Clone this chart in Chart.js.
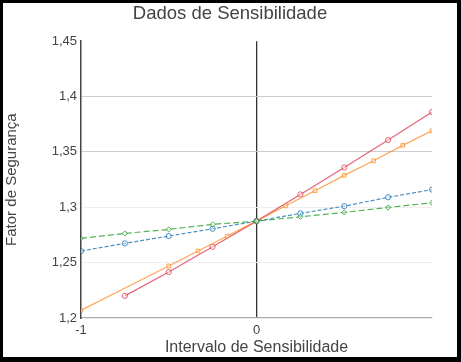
<!DOCTYPE html>
<html>
<head>
<meta charset="utf-8">
<script src="https://cdn.jsdelivr.net/npm/chart.js@4.4.0/dist/chart.umd.min.js"></script>
<style>
  html, body { margin: 0; padding: 0; background: #fff; }
  .frame {
    width: 461px; height: 362px; box-sizing: border-box;
    border-style: solid; border-color: #000;
    border-width: 3px 4px 5px 3px;
    background: #fff;
  }
  canvas { display: block; }
</style>
</head>
<body>
<div class="frame"><canvas id="sensChart" width="454" height="354"></canvas></div>
<script>
const xSteps  = [-1, -0.75, -0.5, -0.25, 0, 0.25, 0.5, 0.75, 1];
const xRed    = [-0.75, -0.5, -0.25, 0, 0.25, 0.5, 0.75, 1];
const yRed    = [1.220, 1.2415, 1.2643, 1.2875, 1.3116, 1.336, 1.3607, 1.386];
const xOrange = [-1, -0.5, -0.333, -0.167, 0, 0.167, 0.333, 0.5, 0.667, 0.833, 1];
const yOrange = [1.207, 1.247, 1.2605, 1.274, 1.2875, 1.3013, 1.315, 1.3288, 1.342, 1.3559, 1.369];
const yBlue   = [1.2605, 1.2674, 1.274, 1.2806, 1.2875, 1.2945, 1.301, 1.309, 1.316];
const yGreen  = [1.272, 1.2764, 1.280, 1.2846, 1.2875, 1.2914, 1.2954, 1.2999, 1.304];

const yTicks = [1.2, 1.25, 1.3, 1.35, 1.4, 1.45];

function toPoints(xs, ys) {
  return xs.map((x, i) => ({ x, y: ys[i] }));
}

function series(label, xs, ys, color, shape, dash) {
  return {
    label,
    data: toPoints(xs, ys),
    showLine: true,
    borderColor: color,
    backgroundColor: "rgba(255,255,255,0.6)",
    borderWidth: 1.2,
    borderDash: dash,
    pointStyle: shape,
    pointRadius: 2.6,
    pointBorderWidth: 1,
    pointBorderColor: color,
    pointBackgroundColor: "rgba(255,255,255,0.4)"
  };
}

const ctx = document.getElementById("sensChart").getContext("2d");

new Chart(ctx, {
  type: "scatter",
  data: {
    datasets: [
      series("Verde", xSteps, yGreen, "rgba(44,160,44,0.8)", "rectRot", [6, 3]),
      series("Azul", xSteps, yBlue, "rgba(31,119,180,0.8)", "circle", [4, 2]),
      series("Laranja", xOrange, yOrange, "rgba(255,127,14,0.7)", "rect", []),
      series("Vermelho", xRed, yRed, "rgba(214,39,60,0.7)", "circle", [])
    ]
  },
  options: {
    responsive: false,
    animation: false,
    layout: { padding: 0 },
    plugins: {
      legend: { display: false },
      tooltip: { enabled: false },
      title: {
        display: true,
        text: "Dados de Sensibilidade",
        color: "#444",
        font: { family: "Liberation Sans, Arial, sans-serif", size: 18.5, weight: "normal" },
        padding: { top: 0, bottom: 16 }
      }
    },
    scales: {
      x: {
        type: "linear",
        min: -1,
        max: 1,
        ticks: {
          stepSize: 1,
          color: "#444",
          padding: 5,
          font: { family: "Liberation Sans, Arial, sans-serif", size: 13 },
          callback: v => (v === 1 ? "" : String(v))
        },
        grid: {
          drawTicks: false,
          color: c => (c.tick && c.tick.value === 0 ? "#333" : "rgba(0,0,0,0)"),
          lineWidth: 1.3
        },
        border: { display: true, color: "#aaa", width: 1.3 },
        title: {
          display: true,
          text: "Intervalo de Sensibilidade",
          color: "#444",
          font: { family: "Liberation Sans, Arial, sans-serif", size: 16 },
          padding: { top: 0, bottom: 0 }
        },
        afterFit: s => { s.height = 39; }
      },
      y: {
        min: 1.2,
        max: 1.45,
        afterBuildTicks: s => { s.ticks = yTicks.map(v => ({ value: v })); },
        ticks: {
          color: "#444",
          padding: 4,
          font: { family: "Liberation Sans, Arial, sans-serif", size: 13 },
          callback: v => String(Math.round(v * 100) / 100).replace(".", ",")
        },
        grid: {
          drawTicks: false,
          color: c => {
            const v = c.tick ? Math.round(c.tick.value * 100) / 100 : 0;
            if (v === 1.35 || v === 1.4) return "#ccc";
            if (v === 1.25 || v === 1.3) return "#eee";
            return "rgba(0,0,0,0)";
          }
        },
        border: { display: true, color: "#444", width: 1.5 },
        title: {
          display: true,
          text: "Fator de Segurança",
          color: "#444",
          font: { family: "Liberation Sans, Arial, sans-serif", size: 15 },
          padding: { top: 0, bottom: 0 }
        },
        afterFit: s => { s.width = 78; }
      },
      // empty right-hand spacer so the title stays centred on the whole canvas
      spacer: {
        type: "linear",
        position: "right",
        display: true,
        ticks: { display: false },
        grid: { display: false, drawOnChartArea: false },
        border: { display: false },
        afterFit: s => { s.width = 25; }
      }
    }
  }
});
</script>
</body>
</html>
